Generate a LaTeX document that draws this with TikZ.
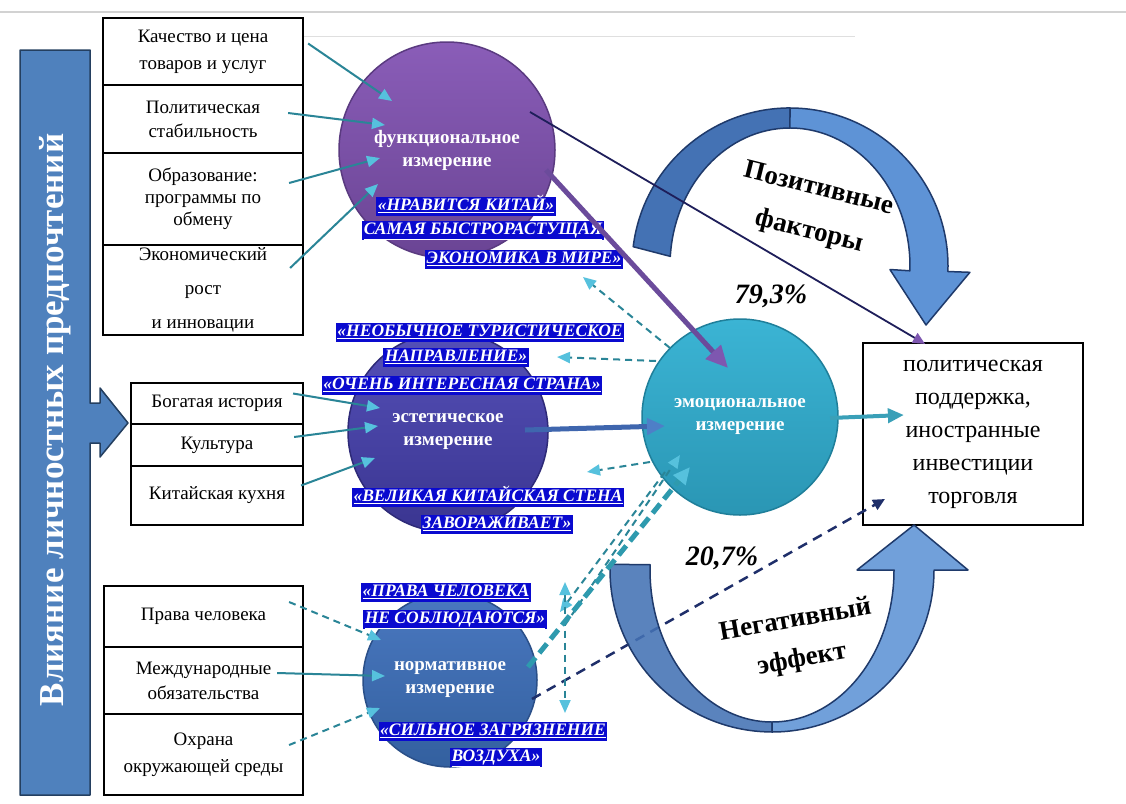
\documentclass[tikz,border=0pt]{standalone}
\usepackage{fontspec}
\setmainfont{Liberation Serif}
\usetikzlibrary{arrows.meta}
\definecolor{barblue}{HTML}{4F81BD}
\definecolor{bardark}{HTML}{243F60}
\definecolor{labblue}{HTML}{0A0ACF}
\definecolor{tealline}{HTML}{2A8597}
\definecolor{tealtip}{HTML}{56C1DD}
\definecolor{navy}{HTML}{1E1E5A}
\definecolor{navyd}{HTML}{1F2F6A}
\definecolor{purpl}{HTML}{6B4B9B}
\definecolor{purtip}{HTML}{7E57B0}
\definecolor{posdark}{HTML}{4472B4}
\definecolor{poslight}{HTML}{5E93D6}
\definecolor{arrborder}{HTML}{1F3A6B}
\definecolor{funtop}{HTML}{8A5DB8}
\definecolor{funbot}{HTML}{6A4494}
\definecolor{funbrd}{HTML}{5A3A80}
\definecolor{aestop}{HTML}{5550B8}
\definecolor{aesbot}{HTML}{3A3590}
\definecolor{aesbrd}{HTML}{2E2A78}
\definecolor{nortop}{HTML}{4A78C0}
\definecolor{norbot}{HTML}{33609F}
\definecolor{norbrd}{HTML}{2A4F88}
\definecolor{emotop}{HTML}{3BB4D4}
\definecolor{emobot}{HTML}{2A96B4}
\definecolor{emobrd}{HTML}{1F7F9A}
\definecolor{thickteal}{HTML}{2E9AAE}
\definecolor{aesline}{HTML}{3F66AE}
\definecolor{aestip}{HTML}{4E7FC7}
\definecolor{emoline}{HTML}{3AA0B8}
\begin{document}
\begin{tikzpicture}[x=1pt,y=-1pt,
  lbox/.style={draw=black, line width=2.2pt, fill=white, align=center, inner sep=0pt},
  circ/.style={circle, inner sep=0pt, align=center, text=white, font=\fontsize{19}{23}\selectfont\bfseries, line width=1.5pt},
  lab/.style={fill=labblue, text=white, inner xsep=1.5pt, inner ysep=0pt, text height=14pt, text depth=5pt, font=\fontsize{17.5}{20}\selectfont\bfseries\itshape},
  tarr/.style={draw=tealline, line width=2pt, -{Triangle[length=13pt,width=11pt,color=tealtip]}},
  tdash/.style={tarr, dash pattern=on 7pt off 5pt},
  tboth/.style={draw=tealline, line width=2pt, dash pattern=on 7pt off 5pt, {Triangle[length=13pt,width=11pt,color=tealtip]}-{Triangle[length=13pt,width=11pt,color=tealtip]}},
  bigtxt/.style={font=\fontsize{27}{30}\selectfont\bfseries, inner sep=0pt},
  pct/.style={font=\fontsize{28}{30}\selectfont\bfseries\itshape},
  curved/.style={draw=arrborder, line width=1.5pt, line join=round}
]
\useasboundingbox (0,0) rectangle (1126,803);
\fill[white] (0,0) rectangle (1126,803);
% top rules
\draw[gray!35, line width=2pt] (0,12) -- (1126,12);
\draw[gray!25, line width=1pt] (300,36) -- (855,36);

% left bar with arrow
\draw[fill=barblue, draw=bardark, line width=1.5pt, line join=round]
  (20,50) -- (90,50) -- (90,403) -- (100,403) -- (100,388) -- (128,423) -- (100,457) -- (100,443) -- (90,443) -- (90,795) -- (20,795) -- cycle;
\node[rotate=90, text=white, font=\fontsize{35}{35}\selectfont\bfseries] (bart) at (55,420) {Влияние личностных предпочтений};

% left boxes, group 1
\node[lbox, minimum width=200pt, minimum height=67pt, font=\fontsize{19}{27}\selectfont] (b1) at (203,51.5) {Качество и цена\\товаров и услуг};
\node[lbox, minimum width=200pt, minimum height=68pt, font=\fontsize{19}{24}\selectfont] (b2) at (203,119) {Политическая\\стабильность};
\node[lbox, minimum width=200pt, minimum height=92pt, font=\fontsize{19}{22}\selectfont] (b3) at (203,199) {Образование:\\программы по\\обмену};
\node[lbox, minimum width=200pt, minimum height=90pt, font=\fontsize{19}{34}\selectfont] (b4) at (203,290) {Экономический\\рост\\и инновации};
% group 2
\node[lbox, minimum width=172pt, minimum height=41pt, font=\fontsize{19}{22}\selectfont] (m1) at (217,403.5) {Богатая история};
\node[lbox, minimum width=172pt, minimum height=42pt, font=\fontsize{19}{22}\selectfont] (m2) at (217,445) {Культура};
\node[lbox, minimum width=172pt, minimum height=59pt, font=\fontsize{19}{22}\selectfont] (m3) at (217,495.5) {Китайская кухня};
% group 3
\node[lbox, minimum width=199pt, minimum height=61pt, font=\fontsize{19}{22}\selectfont] (n1) at (203.5,616.5) {Права человека};
\node[lbox, minimum width=199pt, minimum height=67pt, font=\fontsize{19}{25}\selectfont] (n2) at (203.5,680.5) {Международные\\обязательства};
\node[lbox, minimum width=199pt, minimum height=81pt, font=\fontsize{19}{27}\selectfont] (n3) at (203.5,754.5) {Охрана\\окружающей среды};

% right box
\node[lbox, minimum width=220pt, minimum height=182pt, font=\fontsize{24}{33}\selectfont] (rbox) at (973,434) {политическая\\поддержка,\\иностранные\\инвестиции\\торговля};

% circles
\node[circ, minimum size=216pt, top color=funtop, bottom color=funbot, draw=funbrd] (func) at (447,150) {функциональное\\измерение};
\node[circ, minimum size=200pt, top color=aestop, bottom color=aesbot, draw=aesbrd] (aest) at (448,432) {эстетическое\\измерение};
\node[circ, minimum size=174pt, top color=nortop, bottom color=norbot, draw=norbrd] (norm) at (450,680) {нормативное\\измерение};
\node[circ, minimum size=196pt, top color=emotop, bottom color=emobot, draw=emobrd] (emo) at (740,417) {эмоциональное\\измерение};

% normative -> right box (behind the negative arrow)
\draw[draw=navyd, line width=2.5pt, dash pattern=on 10pt off 7pt, -{Triangle[length=12pt,width=11pt,color=navyd]}]
  ([shift={(82,19)}]norm.center) -- ([shift={(-88,65)}]rbox.center);

% positive curved arrow
\filldraw[curved, fill=posdark] (633.2,246.7) arc[start angle=187,end angle=270,radius=158] -- (790,128) arc[start angle=270,end angle=184,x radius=120,y radius=138] -- cycle;
\filldraw[curved, fill=poslight] (790,108) arc[start angle=270,end angle=362,radius=158] -- (969.9,272.3) -- (926,325) -- (889.9,269.5) -- (909.9,270.8) arc[start angle=362,end angle=270,x radius=120,y radius=138] -- cycle;
% negative curved arrow
\filldraw[curved, fill=posdark, fill opacity=0.88] (610.1,564.3) arc[start angle=182,end angle=90,radius=162] -- (772,722) arc[start angle=90,end angle=182,x radius=122,y radius=152] -- cycle;
\filldraw[curved, fill=poslight, fill opacity=0.88] (772,732) arc[start angle=90,end angle=0,radius=162] -- (968,570) -- (914,525) -- (857,570) -- (894,570) arc[start angle=0,end angle=90,x radius=122,y radius=152] -- cycle;

% labels
\node[lab] (l1) at (466,206) {\underline{«НРАВИТСЯ КИТАЙ»}};
\node[lab] (l2) at (483,230) {\underline{САМАЯ БЫСТРОРАСТУЩАЯ}};
\node[lab] (l3) at (524,259) {\underline{ЭКОНОМИКА В МИРЕ»}};
\node[lab] (l4) at (480,332) {\underline{«НЕОБЫЧНОЕ ТУРИСТИЧЕСКОЕ}};
\node[lab] (l5) at (456,357) {\underline{НАПРАВЛЕНИЕ»}};
\node[lab] (l6) at (462,385) {\underline{«ОЧЕНЬ ИНТЕРЕСНАЯ СТРАНА»}};
\node[lab] (l7) at (488,497) {\underline{«ВЕЛИКАЯ КИТАЙСКАЯ СТЕНА}};
\node[lab] (l8) at (497,524) {\underline{ЗАВОРАЖИВАЕТ»}};
\node[lab] (l9) at (446,592) {\underline{«ПРАВА ЧЕЛОВЕКА}};
\node[lab] (l10) at (455,619) {\underline{НЕ СОБЛЮДАЮТСЯ»}};
\node[lab] (l11) at (493,731) {\underline{«СИЛЬНОЕ ЗАГРЯЗНЕНИЕ}};
\node[lab] (l12) at (496,757) {\underline{ВОЗДУХА»}};

% inputs to functional
\draw[tarr] ([shift={(4,-8)}]b1.east) -- ([shift={(-55,-49)}]func.center);
\draw[tarr] ([shift={(-16,-6)}]b2.east) -- ([shift={(-62,-25)}]func.center);
\draw[tarr] ([shift={(-15,-16)}]b3.east) -- ([shift={(-67,8)}]func.center);
\draw[tarr] ([shift={(-14,-22)}]b4.east) -- ([shift={(-69,34)}]func.center);
% inputs to aesthetic
\draw[tarr] ([shift={(-11,-10)}]m1.east) -- ([shift={(-68,-24)}]aest.center);
\draw[tarr] ([shift={(-10,-8)}]m2.east) -- ([shift={(-70,-6)}]aest.center);
\draw[tarr] ([shift={(-3,-10)}]m3.east) -- ([shift={(-73,26)}]aest.center);
% inputs to normative
\draw[tdash] ([shift={(-15,-14.5)}]n1.east) -- ([shift={(-69,-40)}]norm.center);
\draw[tarr] ([shift={(-27,-7.5)}]n2.east) -- ([shift={(-65,-4)}]norm.center);
\draw[tdash] ([shift={(-15,-9.5)}]n3.east) -- ([shift={(-70,28)}]norm.center);

% emotional -> labels (dashed)
\draw[tdash] ([shift={(-70,-69)}]emo.center) -- ([shift={(59,18)}]l3.center);
\draw[tdash] ([shift={(-84,-56)}]emo.center) -- ([shift={(101,0)}]l5.center);
\draw[tdash] ([shift={(-90,45)}]emo.center) -- ([shift={(99,-25)}]l7.center);
\draw[tdash] ([shift={(-75,55)}]emo.center) -- ([shift={(105,-7)}]l10.center);
\coordinate (vt) at (565,582);
\coordinate (vj) at (565,625);
\coordinate (vb) at (565,713);
\draw[tboth] (vt) -- (vb);
\draw[tdash] (vj) -- ([shift={(-60,38)}]emo.center);

% normative -> emotional (thick dashed)
\draw[draw=thickteal, line width=5pt, dash pattern=on 12pt off 6pt, -{Triangle[length=17pt,width=15pt,color=tealtip]}]
  ([shift={(78,-13)}]norm.center) -- ([shift={(-50,50)}]emo.center);
% functional -> emotional
\draw[draw=purpl, line width=5pt, -{Triangle[length=22pt,width=20pt,color=purtip]}]
  ([shift={(99,20)}]func.center) -- ([shift={(-12,-49)}]emo.center);
% aesthetic -> emotional
\draw[draw=aesline, line width=5pt, -{Triangle[length=18pt,width=16pt,color=aestip]}]
  ([shift={(77,-2)}]aest.center) -- ([shift={(-75,9)}]emo.center);
% emotional -> right box
\draw[draw=emoline, line width=4pt, -{Triangle[length=16pt,width=14pt,color=emoline]}]
  ([shift={(90,1)}]emo.center) -- ([shift={(42,-19)}]rbox.west);
% functional -> right box
\draw[draw=navy, line width=1.8pt, -{Triangle[length=12pt,width=11pt,color=purtip]}]
  ([shift={(83,-38)}]func.center) -- ([shift={(-48,2)}]rbox.north);

% texts on curved arrows
\node[bigtxt, rotate=-14] (pos1) at (819,187) {Позитивные};
\node[bigtxt, rotate=-14] (pos2) at (809,232) {факторы};
\node[bigtxt, rotate=10] (neg1) at (795,618) {Негативный};
\node[bigtxt, rotate=10] (neg2) at (802,660) {эффект};
\node[pct] (p1) at (771,296) {79,3\%};
\node[pct] (p2) at (722,558) {20,7\%};
\end{tikzpicture}
\end{document}
